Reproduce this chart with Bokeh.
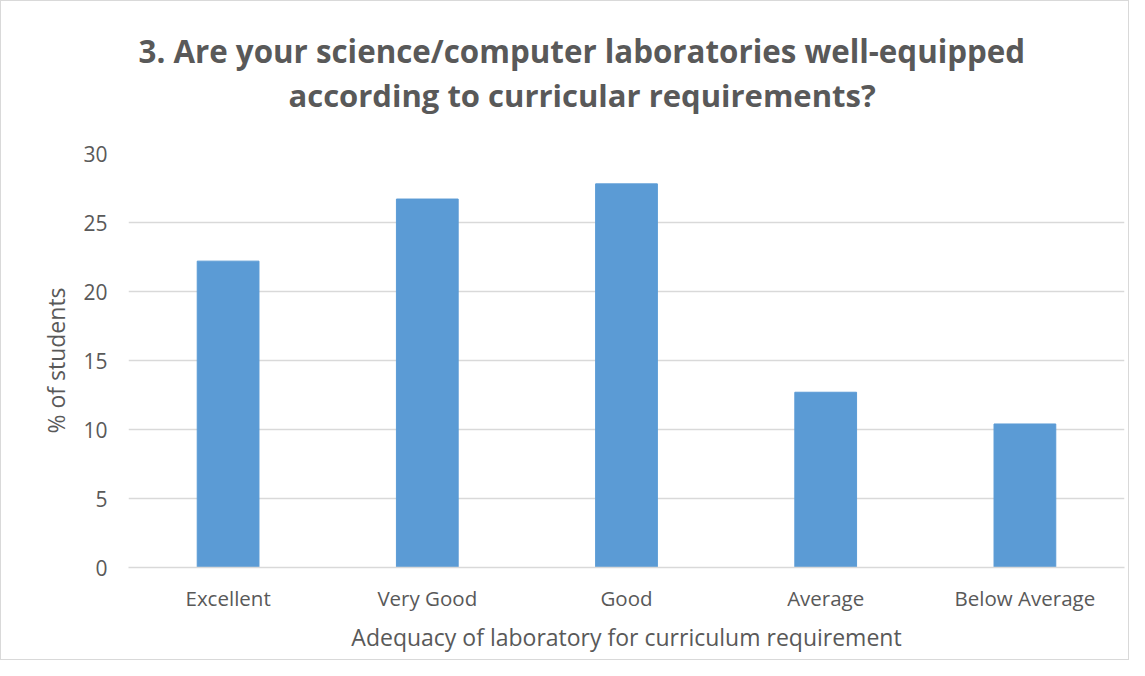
from bokeh.plotting import figure
from bokeh.models import FactorRange, Range1d, ColumnDataSource, Title
from bokeh.embed import file_html
from bokeh.resources import INLINE

categories = ["Excellent", "Very Good", "Good", "Average", "Below Average"]
values = [22.2, 26.7, 27.8, 12.7, 10.4]
y_ticks = [0, 5, 10, 15, 20, 25, 30]
title_lines = ["3. Are your science/computer laboratories well-equipped",
               "according to curricular  requirements?"]
x_label = "Adequacy of laboratory for curriculum requirement"
y_label = "% of students"

TEXT = "#595959"
GRID = "#D9D9D9"
BAR = "#5B9BD5"
FONT = "Open Sans"

W, H = 1129, 660
p = figure(width=W, height=H, x_range=FactorRange(*categories), y_range=Range1d(0, 30),
           output_backend="svg", toolbar_location=None, title=None,
           min_border_left=127, min_border_right=6, min_border_top=152, min_border_bottom=94)
p.styles = {"border": "1px solid #D9D9D9"}
p.outline_line_color = None
p.background_fill_color = "white"
p.border_fill_color = "white"

src = ColumnDataSource(dict(x=categories, top=values))
p.vbar(x="x", top="top", width=0.31, source=src, fill_color=BAR, line_color=BAR)

p.xgrid.grid_line_color = None
p.ygrid.grid_line_color = GRID
p.ygrid.grid_line_width = 1.5

p.yaxis.ticker = y_ticks
p.yaxis.axis_line_color = None
p.yaxis.major_tick_line_color = None
p.yaxis.minor_tick_line_color = None
p.yaxis.major_tick_out = 0
p.yaxis.major_label_standoff = 21
p.yaxis.major_label_text_font = FONT
p.yaxis.major_label_text_font_size = "21px"
p.yaxis.major_label_text_color = TEXT
p.yaxis.axis_label = y_label
p.yaxis.axis_label_text_font = FONT
p.yaxis.axis_label_text_font_size = "23px"
p.yaxis.axis_label_text_font_style = "normal"
p.yaxis.axis_label_text_color = TEXT
p.yaxis.axis_label_standoff = 8

p.xaxis.axis_line_color = GRID
p.xaxis.axis_line_width = 1.5
p.xaxis.major_tick_line_color = None
p.xaxis.minor_tick_line_color = None
p.xaxis.major_tick_out = 0
p.xaxis.major_label_standoff = 16
p.xaxis.major_label_text_font = FONT
p.xaxis.major_label_text_font_size = "20.5px"
p.xaxis.major_label_text_color = TEXT
p.xaxis.axis_label = x_label
p.xaxis.axis_label_text_font = FONT
p.xaxis.axis_label_text_font_size = "23px"
p.xaxis.axis_label_text_font_style = "normal"
p.xaxis.axis_label_text_color = TEXT
p.xaxis.axis_label_standoff = 6

spacer = Title(text=" ", align="left", standoff=0, text_font=FONT,
               text_font_size="26px", text_color="white")
t2 = Title(text=title_lines[1], align="left", offset=160, standoff=0,
           text_font=FONT, text_font_size="31px", text_font_style="bold", text_color=TEXT)
t1 = Title(text=title_lines[0], align="left", offset=10, standoff=0,
           text_font=FONT, text_font_size="31.3px", text_font_style="bold", text_color=TEXT)
p.add_layout(spacer, "above")
p.add_layout(t2, "above")
p.add_layout(t1, "above")

open("out.html", "w").write(file_html(p, INLINE))
